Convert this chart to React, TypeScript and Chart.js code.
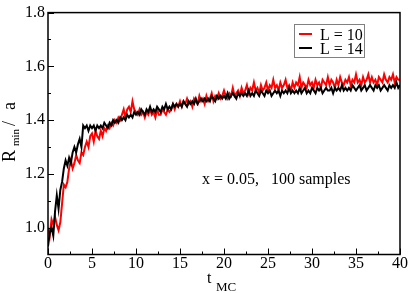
import React, { useEffect, useRef } from "react";
import { Chart, registerables } from "chart.js";

Chart.register(...registerables);

// time grid: t = T_START + i * T_STEP
const T_START = 0;
const T_STEP = 0.2;

// L = 10 (red)
const L10 = [
  1.00, 0.97, 1.03, 1.01, 1.04, 1.01, 0.99, 1.02, 1.09, 1.16,
  1.15, 1.17, 1.22, 1.25, 1.22, 1.24, 1.27, 1.25, 1.24, 1.28,
  1.27, 1.30, 1.32, 1.30, 1.34, 1.35, 1.32, 1.36, 1.34, 1.33,
  1.36, 1.34, 1.37, 1.36, 1.38, 1.37, 1.39, 1.38, 1.40, 1.39,
  1.41, 1.40, 1.42, 1.44, 1.41, 1.44, 1.45, 1.43, 1.47, 1.44,
  1.43, 1.42, 1.44, 1.42, 1.43, 1.41, 1.43, 1.42, 1.44, 1.42,
  1.43, 1.41, 1.44, 1.42, 1.42, 1.44, 1.43, 1.42, 1.44, 1.43,
  1.44, 1.46, 1.44, 1.46, 1.45, 1.47, 1.45, 1.47, 1.46, 1.48,
  1.46, 1.47, 1.45, 1.48, 1.47, 1.46, 1.49, 1.47, 1.48, 1.46,
  1.49, 1.47, 1.48, 1.50, 1.47, 1.49, 1.48, 1.50, 1.48, 1.49,
  1.51, 1.49, 1.48, 1.50, 1.49, 1.52, 1.49, 1.50, 1.51, 1.49,
  1.52, 1.50, 1.51, 1.53, 1.50, 1.52, 1.51, 1.54, 1.51, 1.52,
  1.50, 1.53, 1.51, 1.52, 1.54, 1.51, 1.53, 1.52, 1.55, 1.52,
  1.53, 1.51, 1.54, 1.52, 1.53, 1.55, 1.52, 1.53, 1.51, 1.54,
  1.52, 1.54, 1.53, 1.56, 1.52, 1.54, 1.53, 1.52, 1.55, 1.53,
  1.54, 1.52, 1.55, 1.53, 1.54, 1.52, 1.55, 1.54, 1.53, 1.56,
  1.53, 1.55, 1.54, 1.52, 1.55, 1.53, 1.56, 1.54, 1.53, 1.55,
  1.54, 1.56, 1.53, 1.55, 1.54, 1.57, 1.54, 1.55, 1.53, 1.56,
  1.54, 1.55, 1.57, 1.54, 1.56, 1.54, 1.55, 1.53, 1.56, 1.55,
  1.54, 1.57, 1.55, 1.54, 1.56, 1.55, 1.57, 1.54, 1.56, 1.55,
  1.55,
];

// L = 14 (black)
const L14 = [
  0.93, 0.98, 1.00, 0.97, 1.06, 1.12, 1.07, 1.14, 1.17, 1.22,
  1.25, 1.23, 1.26, 1.24, 1.28, 1.30, 1.28, 1.31, 1.33, 1.30,
  1.38, 1.37, 1.38, 1.36, 1.38, 1.37, 1.38, 1.36, 1.38, 1.37,
  1.38, 1.37, 1.39, 1.38, 1.37, 1.39, 1.38, 1.40, 1.39, 1.40,
  1.39, 1.41, 1.40, 1.41, 1.40, 1.42, 1.41, 1.42, 1.41, 1.43,
  1.42, 1.43, 1.42, 1.44, 1.43, 1.42, 1.44, 1.43, 1.45, 1.43,
  1.44, 1.43, 1.45, 1.44, 1.43, 1.45, 1.44, 1.46, 1.44, 1.45,
  1.44, 1.46, 1.45, 1.46, 1.45, 1.46, 1.45, 1.47, 1.46, 1.45,
  1.47, 1.46, 1.47, 1.46, 1.48, 1.46, 1.47, 1.48, 1.47, 1.48,
  1.47, 1.48, 1.47, 1.49, 1.48, 1.47, 1.49, 1.48, 1.49, 1.48,
  1.49, 1.48, 1.50, 1.48, 1.49, 1.50, 1.49, 1.48, 1.50, 1.49,
  1.50, 1.49, 1.50, 1.49, 1.51, 1.49, 1.50, 1.49, 1.51, 1.50,
  1.49, 1.51, 1.50, 1.49, 1.51, 1.50, 1.51, 1.49, 1.50, 1.51,
  1.50, 1.51, 1.49, 1.51, 1.50, 1.51, 1.50, 1.52, 1.50, 1.51,
  1.50, 1.51, 1.50, 1.52, 1.50, 1.51, 1.52, 1.50, 1.51, 1.50,
  1.52, 1.51, 1.50, 1.52, 1.51, 1.52, 1.50, 1.51, 1.52, 1.51,
  1.51, 1.52, 1.50, 1.52, 1.51, 1.52, 1.51, 1.53, 1.51, 1.52,
  1.51, 1.52, 1.51, 1.53, 1.52, 1.51, 1.52, 1.53, 1.51, 1.52,
  1.53, 1.51, 1.52, 1.53, 1.52, 1.51, 1.53, 1.52, 1.53, 1.51,
  1.52, 1.53, 1.52, 1.51, 1.53, 1.52, 1.53, 1.52, 1.54, 1.52,
  1.53,
];

const SERIES_LABELS = ["L = 10", "L = 14"];
const SERIES_COLORS = ["#ff0000", "#000000"];

const X_TICKS = [0, 5, 10, 15, 20, 25, 30, 35, 40];
const X_MINOR = [2.5, 7.5, 12.5, 17.5, 22.5, 27.5, 32.5, 37.5];
const Y_TICKS = [1.0, 1.2, 1.4, 1.6, 1.8];
const Y_MINOR = [1.1, 1.3, 1.5, 1.7];
const X_MIN = 0;
const X_MAX = 40;
const Y_MIN = 0.9;
const Y_MAX = 1.8;

const ANNOTATION = "x = 0.05,   100 samples";
const X_TITLE = "t";
const X_TITLE_SUB = "MC";
const Y_TITLE = "R";
const Y_TITLE_SUB = "min";
const Y_TITLE_REST = ["/", "a"];

const SERIF = '"Liberation Serif", "DejaVu Serif", serif';

const toPoints = (vals: number[]) =>
  vals.map((y, i) => ({ x: T_START + i * T_STEP, y }));

const decorPlugin = {
  id: "decor",
  afterDraw(chart: any) {
    const ctx: CanvasRenderingContext2D = chart.ctx;
    const { left, right, top, bottom } = chart.chartArea;
    const xs = chart.scales.x;
    const ys = chart.scales.y;
    ctx.save();
    // frame
    ctx.strokeStyle = "#000";
    ctx.lineWidth = 1.5;
    ctx.strokeRect(left, top, right - left, bottom - top);
    // inside ticks
    ctx.lineWidth = 1;
    ctx.beginPath();
    X_TICKS.forEach((v) => {
      const x = Math.round(xs.getPixelForValue(v)) + 0.5;
      ctx.moveTo(x, bottom);
      ctx.lineTo(x, bottom - 6);
    });
    X_MINOR.forEach((v) => {
      const x = Math.round(xs.getPixelForValue(v)) + 0.5;
      ctx.moveTo(x, bottom);
      ctx.lineTo(x, bottom - 3);
    });
    Y_TICKS.forEach((v) => {
      const y = Math.round(ys.getPixelForValue(v)) + 0.5;
      ctx.moveTo(left, y);
      ctx.lineTo(left + 6, y);
    });
    Y_MINOR.forEach((v) => {
      const y = Math.round(ys.getPixelForValue(v)) + 0.5;
      ctx.moveTo(left, y);
      ctx.lineTo(left + 3, y);
    });
    ctx.stroke();

    // legend
    const lx = 294.5, ly = 24.5, lw = 70, lh = 33;
    ctx.fillStyle = "#fff";
    ctx.fillRect(lx, ly, lw, lh);
    ctx.strokeStyle = "#808080";
    ctx.lineWidth = 1;
    ctx.strokeRect(lx, ly, lw, lh);
    ctx.font = `16px ${SERIF}`;
    ctx.textBaseline = "alphabetic";
    ctx.textAlign = "left";
    SERIES_LABELS.forEach((lab, i) => {
      const cy = 34 + i * 14;
      ctx.strokeStyle = SERIES_COLORS[i];
      ctx.lineWidth = 2;
      ctx.beginPath();
      ctx.moveTo(299, cy);
      ctx.lineTo(312, cy);
      ctx.stroke();
      ctx.fillStyle = "#000";
      ctx.fillText(lab, 320, cy + 5.5);
    });

    // annotation
    ctx.fillStyle = "#000";
    ctx.font = `16px ${SERIF}`;
    ctx.fillText(ANNOTATION, 202, 184);

    // x title
    ctx.font = `16px ${SERIF}`;
    ctx.fillText(X_TITLE, 207, 283);
    ctx.font = `13px ${SERIF}`;
    ctx.fillText(X_TITLE_SUB, 216, 291);

    // y title (rotated)
    ctx.save();
    ctx.translate(15, 162);
    ctx.rotate(-Math.PI / 2);
    ctx.font = `18px ${SERIF}`;
    ctx.fillText(Y_TITLE, 0, 0);
    ctx.font = `11px ${SERIF}`;
    ctx.fillText(Y_TITLE_SUB, 16, 4);
    ctx.font = `18px ${SERIF}`;
    ctx.fillText(Y_TITLE_REST[0], 36, 0);
    ctx.fillText(Y_TITLE_REST[1], 52, 0);
    ctx.restore();

    ctx.restore();
  },
};

export default function App() {
  const ref = useRef<HTMLCanvasElement | null>(null);
  useEffect(() => {
    if (!ref.current) return;
    const chart = new Chart(ref.current, {
      type: "line",
      data: {
        datasets: [
          {
            label: SERIES_LABELS[0],
            data: toPoints(L10),
            borderColor: SERIES_COLORS[0],
            backgroundColor: SERIES_COLORS[0],
            borderWidth: 2,
            pointRadius: 0,
            tension: 0,
            order: 2,
          },
          {
            label: SERIES_LABELS[1],
            data: toPoints(L14),
            borderColor: SERIES_COLORS[1],
            backgroundColor: SERIES_COLORS[1],
            borderWidth: 2,
            pointRadius: 0,
            tension: 0,
            order: 1,
          },
        ],
      },
      options: {
        responsive: false,
        animation: false,
        events: [],
        layout: { padding: { left: 0, right: 9, top: 7, bottom: 0 } },
        plugins: { legend: { display: false }, tooltip: { enabled: false } },
        scales: {
          x: {
            type: "linear",
            min: X_MIN,
            max: X_MAX,
            afterBuildTicks: (s: any) => {
              s.ticks = X_TICKS.map((v) => ({ value: v }));
            },
            afterFit: (s: any) => {
              s.height = 38.5;
            },
            grid: { display: false, drawTicks: false },
            border: { display: false },
            ticks: {
              padding: 0,
              color: "#000",
              autoSkip: false,
              maxRotation: 0,
              font: { family: SERIF, size: 16 },
              callback: (v: any) => String(v),
            },
          },
          y: {
            type: "linear",
            min: Y_MIN,
            max: Y_MAX,
            afterBuildTicks: (s: any) => {
              s.ticks = Y_TICKS.map((v) => ({ value: v }));
            },
            afterFit: (s: any) => {
              s.width = 48;
            },
            grid: { display: false, drawTicks: false },
            border: { display: false },
            ticks: {
              padding: 3,
              color: "#000",
              autoSkip: false,
              font: { family: SERIF, size: 16 },
              callback: (v: any) => Number(v).toFixed(1),
            },
          },
        },
      },
      plugins: [decorPlugin],
    });
    return () => chart.destroy();
  }, []);
  return (
    <div style={{ position: "absolute", left: 0, top: 0, width: 409, height: 293, background: "#fff" }}>
      <canvas ref={ref} width={409} height={293} style={{ width: 409, height: 293, display: "block" }} />
    </div>
  );
}
